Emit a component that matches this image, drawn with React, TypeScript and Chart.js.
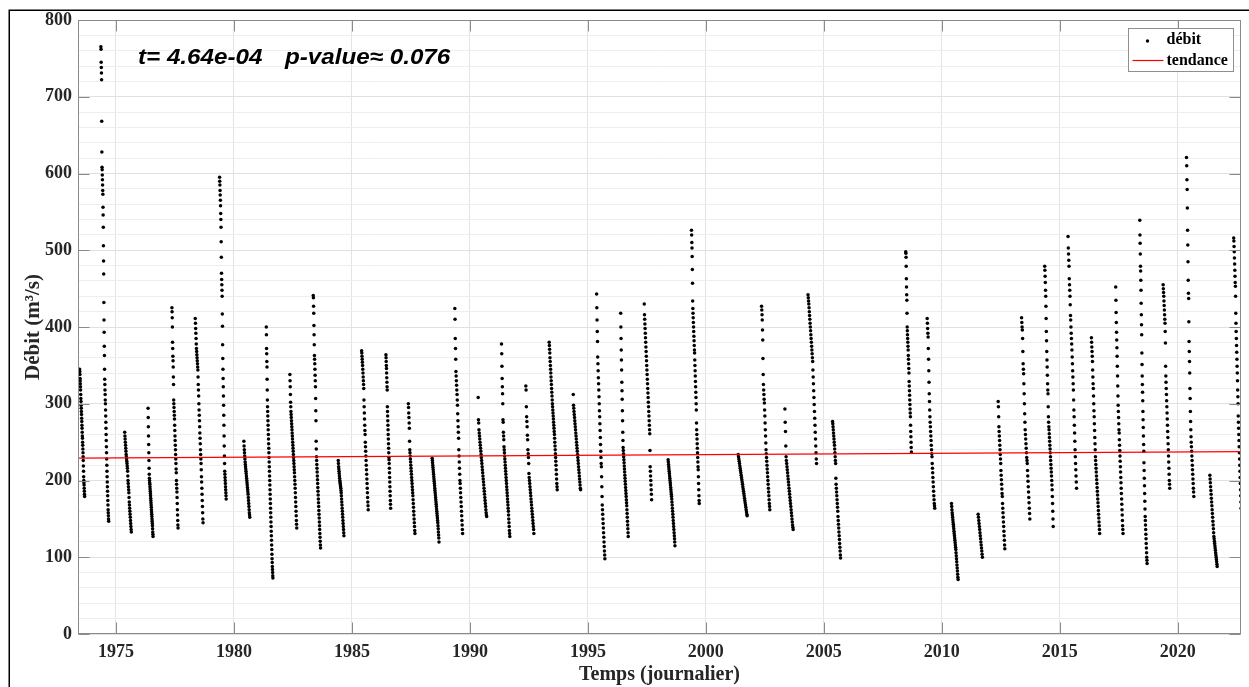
import React, { useEffect, useRef } from "react";
import { Chart, registerables } from "chart.js";

Chart.register(...registerables);

// Decimal-year start/end of each observed season (daily records)
const seasonStart = [
  1973.46, 1974.36, 1975.37, 1976.36, 1977.37, 1978.36, 1979.39, 1980.42, 1981.37, 1982.37,
  1983.36, 1984.42, 1985.41, 1986.44, 1987.39, 1988.4, 1989.36, 1990.35, 1991.34, 1992.37,
  1993.36, 1994.38, 1995.37, 1996.39, 1997.39, 1998.4, 1999.39, 2001.37, 2002.36, 2003.35,
  2004.33, 2005.37, 2008.47, 2009.38, 2010.41, 2011.54, 2012.39, 2013.38, 2014.36, 2015.35,
  2016.34, 2017.37, 2018.39, 2019.38, 2020.37, 2021.36, 2022.37,
];
const seasonEnd = [
  1973.67, 1974.69, 1975.65, 1976.57, 1977.63, 1978.69, 1979.67, 1980.67, 1981.65, 1982.66,
  1983.67, 1984.66, 1985.69, 1986.64, 1987.67, 1988.69, 1989.69, 1990.71, 1991.69, 1992.71,
  1993.7, 1994.69, 1995.72, 1996.71, 1997.7, 1998.69, 1999.72, 2001.75, 2002.71, 2003.7,
  2004.69, 2005.71, 2008.71, 2009.7, 2010.69, 2011.72, 2012.67, 2013.73, 2014.72, 2015.71,
  2016.69, 2017.68, 2018.7, 2019.66, 2020.68, 2021.67, 2022.7,
];
// Discharge values (m3/s) read along each season, in time order
const seasonValues: number[][] = [
  [345, 342, 338, 333, 330, 326, 322, 318, 312, 307, 303, 298, 294, 290, 286, 281, 277, 272, 268, 263, 258, 255, 250, 246, 241, 236, 231, 226, 219, 212, 205, 200, 197, 194, 190, 186, 182, 179],
  [765, 762, 745, 738, 731, 722, 668, 628, 608, 605, 598, 592, 585, 578, 573, 556, 546, 530, 506, 486, 469, 432, 409, 393, 375, 363, 345, 332, 325, 318, 312, 305, 300, 292, 284, 276, 268, 260, 252, 244, 236, 228, 220, 212, 205, 198, 192, 186, 180, 174, 168, 162, 158, 154, 150, 147],
  [263, 258, 254, 250, 246, 242, 238, 234, 231, 228, 225, 222, 219, 216, 212, 206, 200, 196, 192, 188, 184, 178, 172, 168, 164, 160, 156, 152, 148, 144, 140, 136, 133],
  [294, 282, 270, 258, 247, 236, 226, 216, 208, 203, 200, 197, 195, 192, 189, 186, 183, 180, 177, 174, 171, 168, 165, 162, 159, 156, 153, 150, 147, 144, 141, 137, 133, 130, 127],
  [425, 420, 412, 400, 380, 372, 362, 356, 348, 335, 325, 305, 300, 295, 290, 285, 280, 272, 265, 258, 252, 246, 240, 234, 228, 222, 215, 210, 200, 195, 190, 185, 178, 170, 162, 155, 148, 142, 138],
  [411, 405, 398, 392, 385, 378, 372, 368, 364, 360, 356, 352, 348, 344, 335, 325, 318, 310, 300, 292, 285, 278, 270, 262, 255, 248, 240, 234, 228, 222, 214, 205, 198, 190, 182, 174, 166, 158, 150, 145],
  [595, 590, 585, 578, 572, 565, 558, 548, 540, 530, 511, 491, 470, 462, 455, 448, 440, 417, 401, 377, 359, 345, 333, 322, 310, 298, 285, 272, 258, 245, 232, 222, 212, 208, 204, 200, 196, 192, 188, 184, 180, 176],
  [251, 245, 240, 236, 232, 228, 224, 221, 218, 215, 212, 209, 206, 203, 200, 197, 194, 191, 188, 185, 182, 178, 174, 170, 166, 162, 158, 155, 152],
  [400, 390, 372, 365, 355, 348, 332, 318, 305, 296, 290, 284, 278, 272, 266, 260, 254, 248, 242, 236, 230, 224, 218, 212, 206, 200, 194, 188, 182, 176, 170, 164, 158, 152, 146, 140, 134, 128, 122, 116, 110, 104, 98, 93, 88, 84, 80, 76, 73],
  [338, 330, 322, 312, 302, 296, 290, 286, 282, 278, 274, 270, 266, 262, 258, 254, 250, 246, 242, 238, 234, 230, 226, 222, 218, 214, 210, 205, 200, 195, 190, 184, 178, 172, 166, 160, 154, 148, 143, 138],
  [441, 438, 427, 418, 402, 390, 377, 363, 358, 352, 345, 337, 330, 322, 307, 291, 278, 251, 241, 231, 226, 221, 216, 211, 206, 201, 196, 191, 186, 181, 176, 171, 166, 161, 156, 151, 146, 141, 136, 131, 126, 121, 116, 112],
  [226, 222, 218, 215, 212, 209, 206, 203, 200, 198, 196, 194, 192, 190, 187, 184, 180, 176, 172, 168, 164, 160, 156, 152, 148, 144, 140, 136, 132, 128],
  [369, 366, 362, 358, 354, 350, 345, 340, 335, 330, 325, 320, 305, 296, 288, 280, 272, 265, 260, 250, 244, 238, 232, 226, 220, 214, 208, 202, 196, 190, 184, 178, 172, 167, 162],
  [364, 360, 355, 350, 346, 340, 334, 328, 322, 318, 296, 290, 284, 278, 272, 266, 260, 254, 248, 242, 236, 230, 227, 222, 216, 210, 204, 198, 192, 186, 180, 174, 169, 164],
  [300, 295, 288, 282, 275, 268, 251, 240, 236, 232, 228, 224, 220, 216, 212, 208, 204, 200, 196, 192, 188, 184, 180, 175, 170, 165, 160, 155, 150, 145, 140, 135, 131],
  [229, 226, 223, 220, 217, 214, 211, 208, 205, 202, 199, 196, 193, 190, 187, 184, 181, 178, 175, 172, 169, 166, 163, 160, 157, 154, 151, 148, 145, 141, 137, 133, 129, 125, 120],
  [424, 410, 385, 372, 358, 342, 336, 330, 324, 318, 312, 305, 298, 287, 278, 270, 263, 255, 240, 232, 224, 216, 208, 200, 196, 190, 184, 178, 172, 166, 160, 154, 148, 142, 136, 131],
  [308, 279, 275, 266, 262, 258, 254, 250, 246, 242, 238, 234, 230, 226, 222, 218, 214, 210, 206, 202, 198, 194, 190, 186, 182, 178, 174, 170, 166, 162, 158, 155, 153],
  [378, 365, 349, 333, 322, 313, 300, 279, 276, 263, 258, 253, 244, 240, 236, 232, 228, 224, 220, 216, 212, 208, 204, 200, 196, 192, 188, 184, 180, 176, 172, 168, 164, 160, 155, 150, 145, 140, 135, 131, 127],
  [323, 318, 296, 283, 277, 270, 259, 253, 240, 235, 230, 222, 209, 204, 200, 196, 192, 188, 184, 180, 176, 172, 168, 164, 160, 156, 152, 148, 144, 140, 136, 131],
  [380, 376, 371, 366, 360, 355, 350, 345, 340, 335, 330, 325, 320, 315, 310, 305, 300, 296, 292, 288, 284, 280, 276, 272, 268, 264, 260, 255, 250, 245, 240, 235, 230, 225, 220, 214, 208, 202, 196, 192, 188],
  [312, 298, 294, 290, 286, 282, 278, 274, 270, 266, 262, 258, 254, 250, 246, 242, 238, 234, 230, 226, 222, 218, 214, 210, 206, 202, 198, 194, 190, 188],
  [443, 425, 409, 394, 381, 361, 352, 343, 334, 326, 318, 309, 300, 291, 283, 274, 265, 256, 247, 238, 230, 222, 218, 205, 192, 179, 168, 162, 156, 150, 144, 138, 132, 126, 120, 114, 108, 103, 98],
  [418, 400, 385, 370, 357, 344, 328, 317, 306, 291, 278, 263, 252, 243, 239, 235, 231, 227, 223, 219, 215, 211, 207, 203, 199, 195, 191, 187, 183, 179, 175, 171, 167, 162, 157, 152, 147, 142, 137, 132, 127],
  [430, 416, 410, 404, 398, 392, 386, 380, 374, 368, 362, 356, 350, 344, 338, 332, 326, 320, 314, 308, 302, 296, 290, 284, 278, 272, 266, 261, 239, 218, 212, 206, 200, 194, 188, 182, 175],
  [227, 224, 221, 218, 215, 212, 209, 206, 203, 200, 197, 194, 191, 188, 185, 182, 179, 176, 172, 168, 164, 160, 156, 152, 148, 144, 140, 136, 132, 128, 124, 120, 115],
  [526, 520, 510, 503, 492, 475, 457, 434, 424, 418, 412, 406, 400, 394, 388, 382, 376, 370, 366, 357, 350, 343, 336, 329, 322, 315, 308, 300, 292, 275, 266, 260, 254, 248, 242, 236, 230, 224, 218, 214, 205, 196, 188, 180, 174, 170],
  [234, 231, 228, 225, 222, 219, 216, 213, 210, 207, 204, 201, 198, 195, 192, 189, 186, 183, 180, 177, 174, 171, 168, 165, 162, 159, 156, 154],
  [427, 422, 416, 409, 396, 383, 359, 338, 325, 318, 312, 306, 301, 292, 284, 275, 266, 258, 249, 240, 235, 230, 225, 220, 215, 210, 205, 200, 195, 190, 185, 180, 175, 170, 166, 162],
  [293, 276, 264, 245, 231, 226, 222, 218, 214, 210, 206, 202, 198, 194, 190, 186, 182, 178, 174, 170, 166, 162, 158, 154, 150, 146, 142, 139, 136],
  [442, 438, 434, 430, 425, 420, 415, 410, 405, 400, 395, 390, 385, 380, 375, 370, 365, 360, 355, 344, 335, 326, 317, 308, 299, 290, 281, 272, 263, 254, 245, 236, 228, 222],
  [277, 274, 270, 266, 262, 258, 254, 250, 246, 241, 236, 231, 226, 222, 203, 195, 190, 185, 180, 175, 170, 165, 160, 153, 148, 143, 138, 133, 128, 123, 118, 113, 108, 103, 99],
  [498, 496, 491, 479, 463, 452, 442, 435, 418, 400, 395, 390, 385, 380, 375, 370, 363, 358, 352, 346, 340, 329, 323, 317, 311, 305, 299, 293, 288, 283, 272, 264, 257, 250, 243, 237],
  [411, 405, 398, 392, 387, 372, 358, 343, 328, 313, 303, 292, 283, 276, 270, 264, 258, 252, 246, 240, 235, 231, 222, 216, 210, 204, 198, 192, 186, 180, 175, 170, 167, 164],
  [170, 166, 162, 158, 155, 152, 149, 146, 143, 140, 137, 134, 131, 128, 125, 122, 119, 116, 113, 110, 106, 102, 98, 94, 90, 86, 82, 78, 74, 71],
  [156, 152, 148, 144, 140, 136, 132, 128, 124, 120, 116, 112, 108, 104, 100],
  [303, 296, 283, 270, 264, 258, 252, 246, 240, 234, 228, 222, 213, 207, 201, 195, 189, 183, 179, 170, 164, 158, 152, 146, 140, 134, 128, 122, 116, 111],
  [412, 406, 400, 396, 385, 368, 352, 345, 339, 326, 313, 300, 287, 276, 266, 260, 254, 248, 242, 236, 230, 226, 222, 213, 206, 199, 192, 185, 178, 171, 164, 157, 150],
  [479, 474, 466, 458, 448, 440, 427, 411, 394, 382, 368, 357, 348, 337, 326, 318, 313, 296, 283, 276, 270, 266, 261, 256, 251, 246, 241, 236, 231, 226, 221, 216, 211, 206, 200, 194, 188, 179, 170, 160, 150, 140],
  [518, 503, 495, 487, 479, 463, 455, 448, 440, 429, 415, 409, 400, 392, 385, 378, 370, 361, 352, 343, 335, 326, 318, 305, 292, 283, 272, 262, 251, 240, 231, 222, 214, 206, 198, 190],
  [386, 380, 374, 368, 362, 355, 344, 335, 326, 320, 310, 300, 291, 283, 274, 265, 256, 248, 240, 231, 226, 221, 216, 211, 206, 201, 196, 191, 186, 181, 176, 171, 166, 161, 156, 151, 146, 141, 136, 131],
  [452, 435, 419, 406, 393, 383, 373, 362, 349, 336, 323, 310, 298, 290, 282, 274, 266, 262, 253, 246, 239, 232, 225, 218, 211, 204, 197, 190, 183, 176, 169, 162, 155, 148, 141, 136, 131],
  [539, 520, 509, 495, 479, 473, 461, 448, 431, 416, 403, 390, 366, 351, 336, 325, 315, 304, 290, 279, 269, 258, 247, 238, 223, 213, 203, 193, 183, 173, 163, 153, 148, 142, 136, 130, 124, 118, 112, 106, 100, 96, 92],
  [455, 450, 445, 440, 434, 428, 422, 416, 410, 405, 394, 379, 349, 336, 328, 320, 312, 304, 296, 288, 280, 272, 264, 256, 248, 240, 232, 224, 216, 208, 200, 195, 190],
  [621, 610, 592, 579, 555, 526, 507, 485, 461, 444, 437, 407, 381, 368, 355, 340, 320, 307, 290, 277, 266, 257, 250, 244, 238, 232, 226, 220, 214, 208, 202, 196, 190, 185, 179],
  [207, 202, 197, 192, 187, 182, 177, 172, 167, 162, 157, 152, 147, 142, 137, 132, 127, 124, 121, 118, 115, 112, 109, 106, 103, 100, 97, 94, 91, 88],
  [516, 512, 505, 498, 490, 482, 474, 466, 458, 453, 440, 418, 405, 394, 385, 376, 367, 358, 349, 340, 330, 318, 309, 300, 284, 276, 268, 260, 252, 244, 236, 228, 220, 212, 204, 196, 188, 180, 172, 164, 156, 149],
];

// Linear trend end points
const trendYears = [1973.39, 2022.68];
const trendValues = [229.2, 237.5];

const axisRange = { xMin: 1973.39, xMax: 2022.68, yMin: 0, yMax: 800 };
const statT = "t= 4.64e-04";
const statP = "p-value\u2248 0.076";
const legendLabels = ["débit", "tendance"];

const SERIF = '"Liberation Serif", "Times New Roman", serif';
const SANS = '"Liberation Sans", Arial, sans-serif';
const AXIS_GREY = "#8a8a8a";
const TEXT = "#262626";

function buildPoints() {
  const pts: { x: number; y: number }[] = [];
  seasonValues.forEach((vals, s) => {
    const n = vals.length;
    vals.forEach((v, i) => {
      pts.push({ x: seasonStart[s] + ((seasonEnd[s] - seasonStart[s]) * i) / (n - 1), y: v });
    });
  });
  return pts;
}

const decorPlugin = {
  id: "decor",
  afterDraw(chart: any) {
    const { ctx, chartArea: a, scales } = chart;
    const xs = scales.x;
    const ys = scales.y;
    ctx.save();
    // outer figure frame
    ctx.strokeStyle = "#000";
    ctx.lineWidth = 1.5;
    ctx.beginPath();
    ctx.moveTo(9.25, chart.height);
    ctx.lineTo(9.25, 10.25);
    ctx.lineTo(chart.width, 10.25);
    ctx.stroke();

    // axes box
    const L = Math.round(a.left) + 0.5;
    const R = Math.round(a.right) - 0.5;
    const T = Math.round(a.top) + 0.5;
    const B = Math.round(a.bottom) - 0.5;
    ctx.strokeStyle = AXIS_GREY;
    ctx.lineWidth = 1;
    ctx.strokeRect(L, T, R - L, B - T);
    // inward ticks
    ctx.beginPath();
    const tl = 11;
    xs.ticks.forEach((t: any) => {
      const px = Math.round(xs.getPixelForValue(t.value)) + 0.5;
      ctx.moveTo(px, B);
      ctx.lineTo(px, B - tl);
      ctx.moveTo(px, T);
      ctx.lineTo(px, T + tl);
    });
    ys.ticks.forEach((t: any) => {
      if (t.value % 100 !== 0) return;
      const py = Math.round(ys.getPixelForValue(t.value)) + 0.5;
      ctx.moveTo(L, py);
      ctx.lineTo(L + tl, py);
      ctx.moveTo(R, py);
      ctx.lineTo(R - tl, py);
    });
    ctx.stroke();

    // statistic annotation (wide bold oblique)
    ctx.fillStyle = "#000";
    ctx.font = `italic bold 22px ${SANS}`;
    ctx.textBaseline = "alphabetic";
    ctx.textAlign = "left";
    const drawWide = (txt: string, x: number, y: number) => {
      ctx.save();
      ctx.translate(x, y);
      ctx.scale(1.1, 1);
      ctx.fillText(txt, 0, 0);
      ctx.restore();
    };
    drawWide(statT, a.left + 60, a.top + 44);
    drawWide(statP, a.left + 207, a.top + 44);

    // legend
    const lw = 105;
    const lh = 43;
    const lx = Math.round(a.right - 113) + 0.5;
    const ly = Math.round(a.top + 8) + 0.5;
    ctx.fillStyle = "#fff";
    ctx.fillRect(lx, ly, lw, lh);
    ctx.strokeStyle = "#8f8f8f";
    ctx.lineWidth = 1;
    ctx.strokeRect(lx, ly, lw, lh);
    ctx.fillStyle = "#000";
    ctx.beginPath();
    ctx.arc(lx + 19, ly + 12.5, 1.7, 0, Math.PI * 2);
    ctx.fill();
    ctx.strokeStyle = "#ff0000";
    ctx.lineWidth = 1.2;
    ctx.beginPath();
    ctx.moveTo(lx + 4, ly + 32);
    ctx.lineTo(lx + 35, ly + 32);
    ctx.stroke();
    ctx.fillStyle = "#000";
    ctx.font = `bold 16px ${SERIF}`;
    ctx.textBaseline = "middle";
    ctx.fillText(legendLabels[0], lx + 38, ly + 11);
    ctx.fillText(legendLabels[1], lx + 38, ly + 32);
    ctx.restore();
  },
};

export default function App() {
  const ref = useRef<HTMLCanvasElement | null>(null);
  useEffect(() => {
    if (!ref.current) return;
    const chart = new Chart(ref.current, {
      type: "scatter",
      data: {
        datasets: [
          {
            type: "line",
            label: legendLabels[1],
            data: trendYears.map((x, i) => ({ x, y: trendValues[i] })),
            borderColor: "#ff0000",
            borderWidth: 1.3,
            pointRadius: 0,
            showLine: true,
            fill: false,
          } as any,
          {
            label: legendLabels[0],
            data: buildPoints(),
            pointRadius: 1.75,
            pointBorderWidth: 0,
            pointBackgroundColor: "#000",
            backgroundColor: "#000",
            showLine: false,
          },
        ],
      },
      options: {
        animation: false,
        responsive: false,
        maintainAspectRatio: false,
        layout: { padding: { top: 20, right: 8, left: 0, bottom: 0 } },
        plugins: { legend: { display: false }, tooltip: { enabled: false } },
        scales: {
          x: {
            type: "linear",
            min: axisRange.xMin,
            max: axisRange.xMax,
            afterFit: (s: any) => {
              s.height = 53;
            },
            ticks: {
              stepSize: 5,
              includeBounds: false,
              autoSkip: false,
              maxRotation: 0,
              padding: 8,
              color: TEXT,
              font: { family: SERIF, size: 18, weight: "bold" },
              callback: (v: any) => String(v),
            },
            grid: { color: "#e4e4e4", drawTicks: false, lineWidth: 1 },
            border: { display: false },
            title: {
              display: true,
              text: "Temps (journalier)",
              color: TEXT,
              font: { family: SERIF, size: 20, weight: "bold" },
              padding: { top: 0, bottom: 0 },
            },
          },
          y: {
            min: axisRange.yMin,
            max: axisRange.yMax,
            afterFit: (s: any) => {
              s.width = 78;
            },
            ticks: {
              stepSize: 20,
              autoSkip: false,
              padding: 6,
              color: TEXT,
              font: { family: SERIF, size: 18, weight: "bold" },
              callback: (v: any) => (v % 100 === 0 ? String(v) : ""),
            },
            grid: {
              color: (c: any) => (c.tick && c.tick.value % 100 === 0 ? "#e0e0e0" : "#eeeeee"),
              drawTicks: false,
              lineWidth: 1,
            },
            border: { display: false },
            title: {
              display: true,
              text: "Débit (m³/s)",
              color: TEXT,
              font: { family: SERIF, size: 21, weight: "bold" },
              padding: { top: 21, bottom: 0 },
            },
          },
        },
      } as any,
      plugins: [decorPlugin],
    });
    return () => chart.destroy();
  }, []);
  return (
    <div style={{ position: "absolute", left: 0, top: 0, width: 1249, height: 687, background: "#fff" }}>
      <canvas ref={ref} width={1249} height={687} style={{ display: "block" }} />
    </div>
  );
}
